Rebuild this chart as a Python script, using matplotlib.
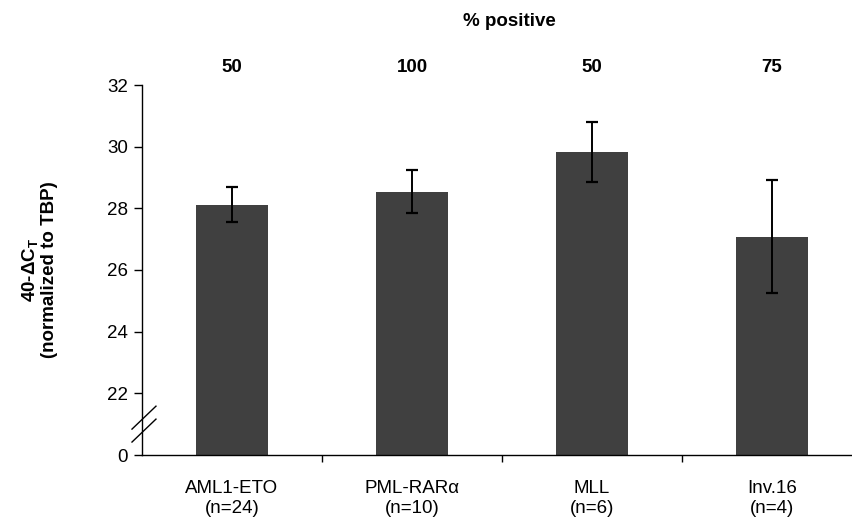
import matplotlib.pyplot as plt
import numpy as np

plt.rcParams['font.family'] = ['Liberation Sans', 'DejaVu Sans']

groups = ['AML1-ETO', 'PML-RARα', 'MLL', 'Inv.16']
n_samples = [24, 10, 6, 4]
pct_positive = [50, 100, 50, 75]
means = [28.12, 28.54, 29.83, 27.08]
errors = [0.56, 0.70, 0.98, 1.84]

y_ticks = [20, 22, 24, 26, 28, 30, 32]
y_tick_labels = ['0', '22', '24', '26', '28', '30', '32']

FS = 13.5
W, H = 852, 524
fig = plt.figure(figsize=(W / 100, H / 100), dpi=100)
# axes box in pixels: x 142..862, y 85..455 (from top)
ax = fig.add_axes([142 / W, (H - 455) / H, 720 / W, 370 / H])

x = np.arange(len(groups))
ax.bar(x, means, width=0.4, color='#404040', zorder=2)
ax.errorbar(x, means, yerr=errors, fmt='none', ecolor='black',
            elinewidth=1.4, capsize=4.2, capthick=1.6, zorder=3)

ax.set_xlim(-0.5, len(groups) - 0.5)
ax.set_ylim(20, 32)

ax.set_yticks(y_ticks)
ax.set_yticklabels(y_tick_labels, fontsize=FS)
ax.tick_params(axis='y', direction='out', length=6, width=1, pad=4)

# tick marks between groups, labels at group centres
ax.set_xticks(x[:-1] + 0.5)
ax.set_xticklabels([])
ax.set_xticks(x, minor=True)
ax.set_xticklabels([f'{g}\n(n={n})' for g, n in zip(groups, n_samples)],
                   minor=True, fontsize=FS, linespacing=1.25)
ax.tick_params(axis='x', which='major', direction='out', length=5, width=1)
ax.tick_params(axis='x', which='minor', length=0, pad=18)

for side in ['top', 'right']:
    ax.spines[side].set_visible(False)
for side in ['left', 'bottom']:
    ax.spines[side].set_linewidth(1)

# axis break marks
for y0 in (0.035, 0.070):
    ax.plot([-0.0139, 0.0194], [y0, y0 + 0.062], transform=ax.transAxes,
            color='black', lw=1, clip_on=False)

ax.set_ylabel('40-ΔC$_\\mathregular{T}$\n(normalized to TBP)', fontsize=FS,
              fontweight='bold', linespacing=1.05)
ax.yaxis.set_label_coords(-0.116, 0.5)

for xi, p in zip(x, pct_positive):
    ax.text(xi, 1.0 + 18 / 370, str(p), transform=ax.get_xaxis_transform(),
            ha='center', va='center', fontsize=FS, fontweight='bold')
fig.text(509 / W, 1 - 21 / H, '% positive', ha='center', va='center',
         fontsize=FS, fontweight='bold')

fig.savefig('out.png', dpi=100)
